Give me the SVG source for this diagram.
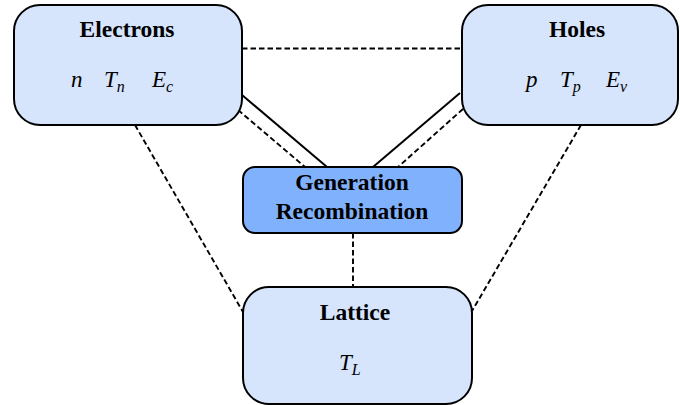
<svg xmlns="http://www.w3.org/2000/svg" width="680" height="405" viewBox="0 0 680 405">
<style>
.box{fill:#d6e4fc;stroke:#000;stroke-width:2}
.gen{fill:#80b1fc;stroke:#000;stroke-width:2}
.t{font-family:"Liberation Serif","Times New Roman",serif;font-weight:bold;font-size:23.5px;text-anchor:middle;fill:#000}
.m{font-family:"Liberation Serif","Times New Roman",serif;font-style:italic;font-size:23px;fill:#000}
.s{font-size:16px}
.sol{stroke:#000;stroke-width:2;fill:none}
.dash{stroke:#000;stroke-width:1.9;fill:none;stroke-dasharray:5.5 3}
</style>
<g id="connectors">
<line class="dash" x1="242" y1="48.5" x2="461" y2="48.5"/>
<line class="sol" x1="242" y1="95" x2="327" y2="167"/>
<line class="sol" x1="460" y1="93" x2="373" y2="167"/>
<line class="dash" x1="238" y1="110" x2="305" y2="167"/>
<line class="dash" x1="463" y1="109" x2="398" y2="167"/>
<line class="dash" x1="353" y1="233" x2="353" y2="287"/>
<line class="dash" x1="135" y1="125" x2="243" y2="312"/>
<line class="dash" x1="581" y1="125" x2="472" y2="311"/>
</g>
<g id="electrons">
<rect class="box" x="14" y="5" width="228" height="120" rx="26"/>
<text class="t" x="127" y="37">Electrons</text>
<text class="m" x="71" y="87">n</text>
<text class="m" x="104" y="87">T<tspan class="s" dy="5">n</tspan></text>
<text class="m" x="152" y="87">E<tspan class="s" dy="5">c</tspan></text>
</g>
<g id="holes">
<rect class="box" x="462" y="5" width="216" height="120" rx="26"/>
<text class="t" x="577" y="37">Holes</text>
<text class="m" x="526" y="87">p</text>
<text class="m" x="560" y="87">T<tspan class="s" dy="5">p</tspan></text>
<text class="m" x="606" y="87">E<tspan class="s" dy="5">v</tspan></text>
</g>
<g id="generation">
<rect class="gen" x="243" y="167" width="219" height="66" rx="12"/>
<text class="t" x="352" y="190">Generation</text>
<text class="t" x="352" y="219">Recombination</text>
</g>
<g id="lattice">
<rect class="box" x="243" y="287" width="229" height="117" rx="26"/>
<text class="t" x="355" y="320">Lattice</text>
<text class="m" x="339" y="370">T<tspan class="s" dy="5">L</tspan></text>
</g>
</svg>
